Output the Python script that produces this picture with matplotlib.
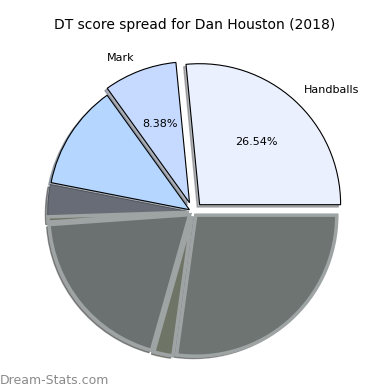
import numpy as np
import matplotlib.pyplot as plt

# DT score spread, counterclockwise from 0 degrees
labels = ["Handballs", "Mark", "", "", "", "", "", ""]
shares = [26.54, 8.38, 12.0, 3.6, 0.6, 19.5, 2.2, 27.18]
n_labelled = 2

# styling
colors = ["#eaf0fe", "#c6d9ff", "#b4d6ff", "#676c76", "#6f7566",
          "#6b7171", "#6f7566", "#6e7472"]
edge_colors = ["black", "black", "black", "#4a4f55", "#9ea3a3",
               "#9ea3a3", "#9ea3a3", "#9ea3a3"]
edge_widths = [0.8, 0.8, 0.8, 0.6, 2.5, 2.5, 2.5, 2.5]
explode = [0.07, 0.07, 0.03, 0.03, 0.03, 0.03, 0.03, 0.03]

fig = plt.figure(figsize=(3.9, 3.9), dpi=100)
ax = fig.add_axes([0, 0, 1, 1])

wedges, texts, autotexts = ax.pie(shares, labels=labels, colors=colors,
                                  explode=explode, autopct='%1.2f%%',
                                  startangle=0, labeldistance=1.1,
                                  pctdistance=0.6,
                                  shadow={'ox': -0.012, 'oy': -0.012, 'shade': 0.55},
                                  textprops={'fontsize': 8})

for i, w in enumerate(wedges):
    w.set_edgecolor(edge_colors[i])
    w.set_linewidth(edge_widths[i])
    if i >= n_labelled:
        autotexts[i].set_visible(False)

ax.set_aspect('equal')
ax.set_xlim(-193 / 141, 197 / 141)
ax.set_ylim(-178 / 141, 212 / 141)
ax.axis('off')

fig.text(0.5, 1 - 25 / 390, "DT score spread for Dan Houston (2018)",
         ha='center', va='center', fontsize=10)
fig.text(0.0, 0.025, "Dream-Stats.com", ha='left', va='center',
         fontsize=9, color="#8a8a8a")

fig.savefig("out.png", dpi=100)
